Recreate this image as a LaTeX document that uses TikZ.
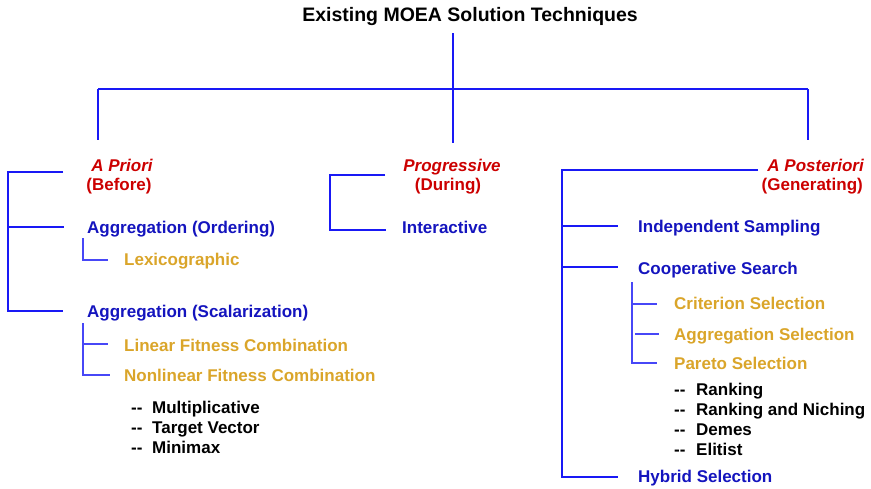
\documentclass[tikz,border=0pt]{standalone}
\usepackage{fontspec}
\setmainfont{Liberation Sans}
\definecolor{linkblue}{RGB}{25,25,245}
\definecolor{headred}{RGB}{204,0,0}
\definecolor{itemblue}{RGB}{20,20,190}
\definecolor{itemgold}{RGB}{218,165,42}
\begin{document}
\begin{tikzpicture}[x=1pt,y=-1pt,
  txt/.style={inner sep=0pt,anchor=base west,font=\fontsize{17}{20}\selectfont\bfseries},
  head/.style={txt,anchor=base,text=headred},
  cls/.style={txt,text=itemblue},
  sub/.style={txt,text=itemgold},
  leaf/.style={txt,text=black},
  trunk/.style={draw=linkblue,line width=2.2pt},
  br/.style={draw=linkblue,line width=1.3pt},
  sbr/.style={draw=linkblue!80,line width=1.3pt}]
\useasboundingbox (0,0) rectangle (871,488);

% title and top level tree
\node[txt,anchor=base,font=\fontsize{19.5}{22}\selectfont\bfseries] (title) at (470,21) {Existing MOEA Solution Techniques};
\coordinate (hub) at (453,89);
\coordinate (cl) at (98,89);
\coordinate (cr) at (808,89);
\coordinate (dl) at (98,140);
\coordinate (dm) at (453,143);
\coordinate (dr) at (808,140);
\draw[trunk] (453,33) -- (hub);
\draw[trunk] (cl) -- (cr);
\draw[trunk] (cl) -- (dl);
\draw[trunk] (hub) -- (dm);
\draw[trunk] (cr) -- (dr);

% a priori branch
\node[head,font=\fontsize{17}{20}\selectfont\bfseries\itshape] (apr) at (122,171) {A Priori};
\node[head] (apr2) at (119,190) {(Before)};
\node[cls] (aggO) at (87,233) {Aggregation (Ordering)};
\node[sub] (lex) at (124,265) {Lexicographic};
\node[cls] (aggS) at (87,317) {Aggregation (Scalarization)};
\node[sub] (lin) at (124,351) {Linear Fitness Combination};
\node[sub] (nlin) at (124,381) {Nonlinear Fitness Combination};
\node[leaf] at (131,413) {-{}-};
\node[leaf] (mul) at (152,413) {Multiplicative};
\node[leaf] at (131,433) {-{}-};
\node[leaf] (tv) at (152,433) {Target Vector};
\node[leaf] at (131,453) {-{}-};
\node[leaf] (mm) at (152,453) {Minimax};

\draw[br] (63,172) -- (8,172) -- (8,311) -- (63,311);
\draw[br] (8,227) -- (64,227);
\draw[sbr] (83,238) -- (83,260) -- (108,260);
\draw[sbr] (83,323) -- (83,375) -- (110,375);
\draw[sbr] (83,344) -- (108,344);

% progressive branch
\node[head,font=\fontsize{17}{20}\selectfont\bfseries\itshape] (prog) at (452,171) {Progressive};
\node[head] (prog2) at (448,190) {(During)};
\node[cls] (inter) at (402,233) {Interactive};
\draw[br] (385,175) -- (330,175) -- (330,230) -- (386,230);

% a posteriori branch
\node[head,anchor=base east,font=\fontsize{17}{20}\selectfont\bfseries\itshape] (apo) at (864,171) {A Posteriori};
\node[head,anchor=base east] (apo2) at (863,190) {(Generating)};
\node[cls] (ind) at (638,232) {Independent Sampling};
\node[cls] (coop) at (638,274) {Cooperative Search};
\node[sub] (crit) at (674,309) {Criterion Selection};
\node[sub] (aggsel) at (674,340) {Aggregation Selection};
\node[sub] (par) at (674,369) {Pareto Selection};
\node[leaf] at (674,395) {-{}-};
\node[leaf] (rk) at (696,395) {Ranking};
\node[leaf] at (674,415) {-{}-};
\node[leaf] (rkn) at (696,415) {Ranking and Niching};
\node[leaf] at (674,435) {-{}-};
\node[leaf] (dem) at (696,435) {Demes};
\node[leaf] at (674,455) {-{}-};
\node[leaf] (eli) at (696,455) {Elitist};
\node[cls] (hyb) at (638,482) {Hybrid Selection};

\draw[br] (758,170) -- (562,170) -- (562,477) -- (618,477);
\draw[br] (562,226) -- (618,226);
\draw[br] (562,267) -- (618,267);
\draw[sbr] (632,282) -- (632,363) -- (657,363);
\draw[sbr] (632,304) -- (657,304);
\draw[sbr] (635,334) -- (659,334);
\end{tikzpicture}
\end{document}
